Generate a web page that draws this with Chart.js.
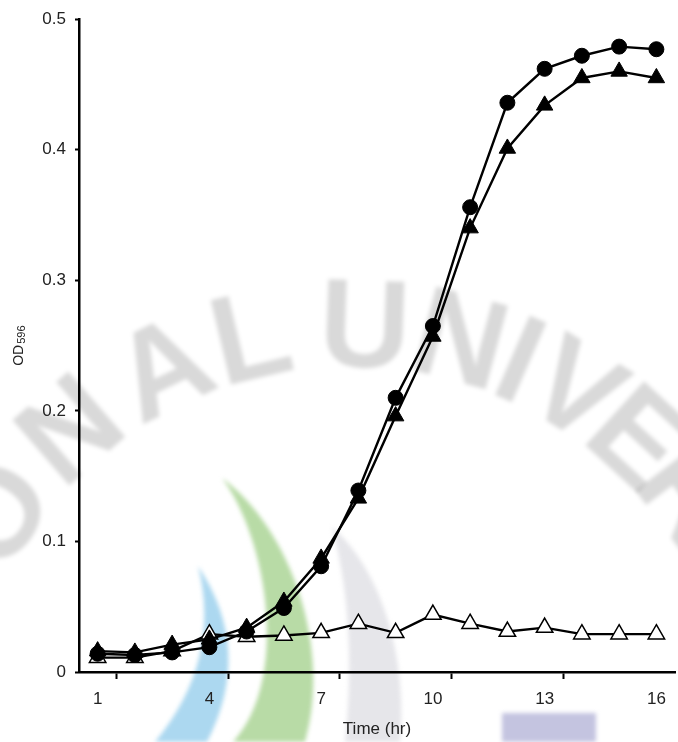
<!DOCTYPE html>
<html>
<head>
<meta charset="utf-8">
<title>OD596 growth curve</title>
<script src="https://cdn.jsdelivr.net/npm/chart.js@4.4.1/dist/chart.umd.min.js"></script>
<style>
  html, body { margin: 0; padding: 0; background: #fff; overflow: hidden; }
  #wrap { width: 686px; height: 742px; }
</style>
</head>
<body>
<div id="wrap"><canvas id="growthChart"></canvas></div>
<script>
// sampling times (hr) and the labels shown on the time axis
const hours = ['1','2','3','4','5','6','7','8','9','10','11','12','13','14','15','16'];
const hourLabels = ['1','4','7','10','13','16'];

// OD596 readings
const odCircle   = [0.014, 0.013, 0.015, 0.019, 0.031, 0.049, 0.081, 0.139, 0.210, 0.265, 0.356, 0.436, 0.462, 0.472, 0.479, 0.477];
const odTriangle = [0.016, 0.015, 0.021, 0.025, 0.034, 0.054, 0.087, 0.133, 0.196, 0.257, 0.340, 0.401, 0.434, 0.455, 0.460, 0.455];
const odOpen     = [0.011, 0.011, 0.016, 0.029, 0.027, 0.028, 0.030, 0.037, 0.030, 0.044, 0.037, 0.031, 0.034, 0.029, 0.029, 0.029];

const FONT = '"Liberation Sans", Arial, sans-serif';
const INK = '#222';

// faint seal in the background: coloured crescents and arched lettering
const watermark = {
  id: 'watermark',
  beforeDraw(chart) {
    const ctx = chart.ctx;
    ctx.save();
    ctx.filter = 'blur(2px)';

    ctx.fillStyle = '#e6e6ea';
    ctx.beginPath();
    ctx.moveTo(332, 527);
    ctx.bezierCurveTo(382, 570, 408, 660, 400, 742);
    ctx.lineTo(345, 742);
    ctx.bezierCurveTo(352, 680, 352, 600, 332, 527);
    ctx.fill();

    ctx.fillStyle = '#b8dba6';
    ctx.beginPath();
    ctx.moveTo(222, 478);
    ctx.bezierCurveTo(292, 530, 332, 650, 305, 742);
    ctx.lineTo(233, 742);
    ctx.bezierCurveTo(290, 680, 268, 540, 222, 478);
    ctx.fill();

    ctx.fillStyle = '#acd8f0';
    ctx.beginPath();
    ctx.moveTo(198, 566);
    ctx.quadraticCurveTo(254, 650, 207, 742);
    ctx.lineTo(155, 742);
    ctx.quadraticCurveTo(222, 660, 198, 566);
    ctx.fill();

    ctx.fillStyle = '#c4c4e0';
    ctx.fillRect(502, 713, 94, 29);

    const letters = [['O', -146], ['N', -131], ['A', -116], ['L', -103.5], ['U', -88],
                     ['N', -75], ['I', -66.5], ['V', -58], ['E', -47.5], ['R', -37]];
    ctx.fillStyle = 'rgba(0,0,0,0.15)';
    ctx.font = 'bold 126px ' + FONT;
    ctx.textAlign = 'center';
    ctx.textBaseline = 'middle';
    for (const [ch, deg] of letters) {
      const a = deg * Math.PI / 180;
      ctx.save();
      ctx.translate(350 + 420 * Math.cos(a), 752 + 420 * Math.sin(a));
      ctx.rotate(a + Math.PI / 2);
      ctx.fillText(ch, 0, 0);
      ctx.restore();
    }
    ctx.restore();
  }
};

// rotated y title with subscript wavelength
const yTitle = {
  id: 'yTitle',
  afterDraw(chart) {
    const ctx = chart.ctx;
    const cy = (chart.chartArea.top + chart.chartArea.bottom) / 2;
    ctx.save();
    ctx.translate(23, cy);
    ctx.rotate(-Math.PI / 2);
    ctx.fillStyle = INK;
    ctx.textBaseline = 'alphabetic';
    ctx.font = '14px ' + FONT;
    const w1 = ctx.measureText('OD').width;
    ctx.font = '11px ' + FONT;
    const w2 = ctx.measureText('596').width;
    const x0 = -(w1 + w2 + 1) / 2;
    ctx.font = '14px ' + FONT;
    ctx.fillText('OD', x0, 0);
    ctx.font = '11px ' + FONT;
    ctx.fillText('596', x0 + w1 + 1, 1.5);
    ctx.restore();
  }
};

const lineStyle = { borderColor: '#000', borderWidth: 2.4, tension: 0, pointBorderColor: '#000', pointBorderWidth: 1 };

new Chart(document.getElementById('growthChart'), {
  type: 'line',
  data: {
    labels: hours,
    datasets: [
      { ...lineStyle, data: odCircle, pointStyle: 'circle', pointRadius: 7.5, pointBackgroundColor: '#000' },
      { ...lineStyle, data: odTriangle, pointStyle: 'triangle', pointRadius: 9.5, pointBackgroundColor: '#000' },
      { ...lineStyle, data: odOpen, pointStyle: 'triangle', pointRadius: 9.5, pointBackgroundColor: '#fff', pointBorderWidth: 1.5 }
    ]
  },
  options: {
    responsive: true,
    maintainAspectRatio: false,
    animation: false,
    layout: { padding: { top: 19, right: 3.5, left: 0, bottom: 0 } },
    plugins: { legend: { display: false }, tooltip: { enabled: false } },
    scales: {
      x: {
        type: 'category',
        offset: true,
        grid: {
          offset: true,
          drawOnChartArea: false,
          tickLength: 7,
          tickWidth: 2,
          tickColor: ctx => (ctx.index % 3 === 1 ? '#000' : 'rgba(0,0,0,0)')
        },
        border: { color: '#000', width: 2.5 },
        ticks: {
          autoSkip: false,
          maxRotation: 0,
          padding: 10,
          color: INK,
          font: { family: FONT, size: 17 },
          callback: (v, i) => (hourLabels.includes(hours[i]) ? hours[i] : '')
        },
        title: {
          display: true,
          text: 'Time (hr)',
          color: INK,
          font: { family: FONT, size: 17 },
          padding: { top: 0, bottom: 2 }
        },
        afterFit: s => { s.height = 70; }
      },
      y: {
        min: 0,
        max: 0.5,
        grid: { drawOnChartArea: false, tickLength: 4, tickWidth: 2, tickColor: '#000' },
        border: { color: '#000', width: 2.5 },
        ticks: {
          stepSize: 0.1,
          padding: 9,
          color: INK,
          font: { family: FONT, size: 17 },
          callback: v => (v === 0 ? '0' : v.toFixed(1))
        },
        afterFit: s => { s.width = 79; }
      }
    }
  },
  plugins: [watermark, yTitle]
});
</script>
</body>
</html>
